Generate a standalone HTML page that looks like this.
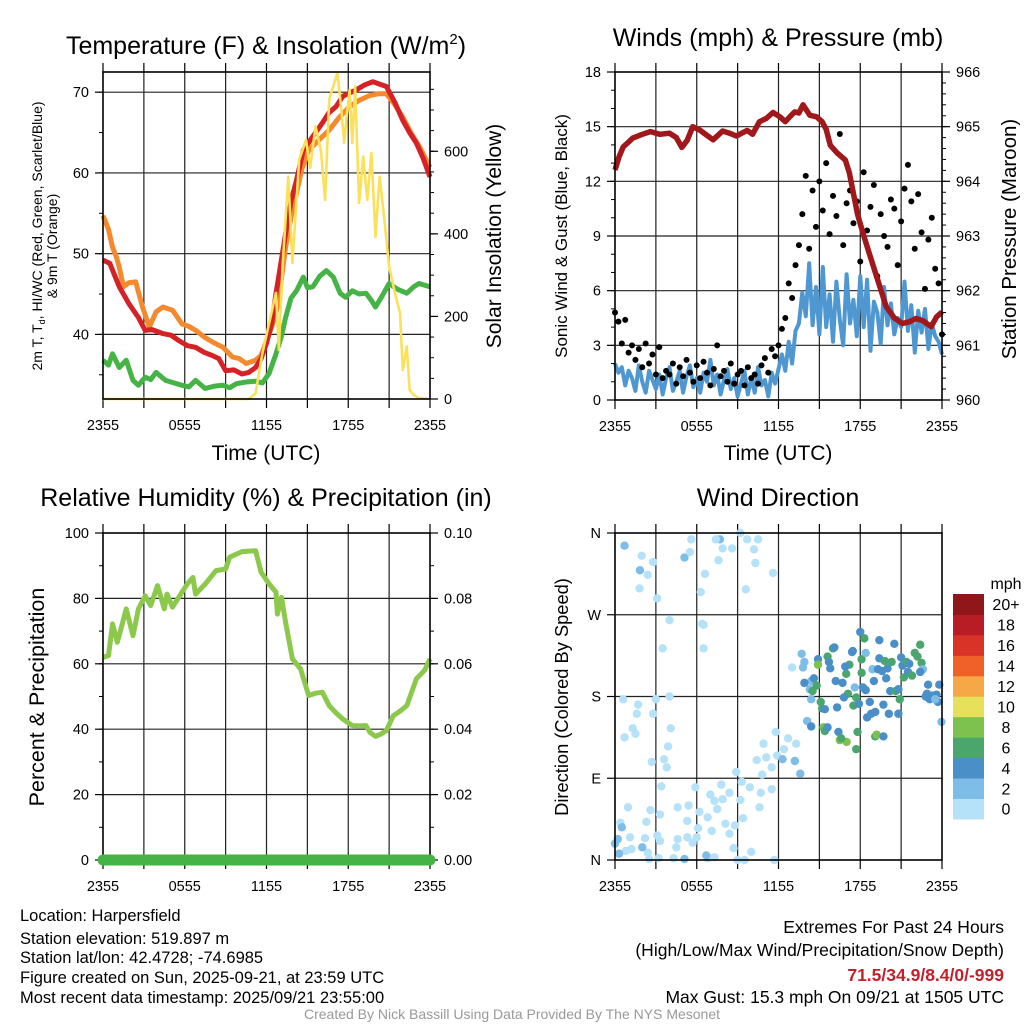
<!DOCTYPE html>
<html><head><meta charset="utf-8">
<style>
html,body{margin:0;padding:0;background:#fff;}
svg{display:block;font-family:"Liberation Sans",Arial,sans-serif;}
</style></head>
<body>
<svg id="root" width="1024" height="1024" viewBox="0 0 1024 1024" xmlns="http://www.w3.org/2000/svg">
<rect width="1024" height="1024" fill="#fff"/>
<g id="p1"></g>
<g id="p2"></g>
<g id="p3"></g>
<g id="p4"></g>

<text x="266" y="54" font-size="25" text-anchor="middle">Temperature (F) &amp; Insolation (W/m<tspan font-size="15" dy="-10">2</tspan><tspan dy="10">)</tspan></text>
<text transform="translate(42,236) rotate(-90)" font-size="14" text-anchor="middle">2m T, T<tspan font-size="9" dy="3">d</tspan><tspan dy="-3">, HI/WC (Red, Green, Scarlet/Blue)</tspan></text>
<text transform="translate(57,246) rotate(-90)" font-size="14" text-anchor="middle">&amp; 9m T (Orange)</text>
<text transform="translate(501,236) rotate(-90)" font-size="21" text-anchor="middle">Solar Insolation (Yellow)</text>
<text x="266" y="460" font-size="21" text-anchor="middle">Time (UTC)</text>

<text x="778" y="46" font-size="25" text-anchor="middle">Winds (mph) &amp; Pressure (mb)</text>
<text transform="translate(567,236) rotate(-90)" font-size="17" text-anchor="middle">Sonic Wind &amp; Gust (Blue, Black)</text>
<text transform="translate(1016,239) rotate(-90)" font-size="20.5" text-anchor="middle">Station Pressure (Maroon)</text>
<text x="778" y="460" font-size="21" text-anchor="middle">Time (UTC)</text>

<text x="266" y="506" font-size="25" text-anchor="middle">Relative Humidity (%) &amp; Precipitation (in)</text>
<text transform="translate(44,697) rotate(-90)" font-size="21.5" text-anchor="middle">Percent &amp; Precipitation</text>

<text x="778" y="506" font-size="25" text-anchor="middle">Wind Direction</text>
<text transform="translate(568,697) rotate(-90)" font-size="18.3" text-anchor="middle">Direction (Colored By Speed)</text>
<text x="1006" y="589" font-size="16" text-anchor="middle">mph</text>

<g font-size="16.5">
<text x="20" y="921">Location: Harpersfield</text>
<text x="20" y="944">Station elevation: 519.897 m</text>
<text x="20" y="963">Station lat/lon: 42.4728; -74.6985</text>
<text x="20" y="983">Figure created on Sun, 2025-09-21, at 23:59 UTC</text>
<text x="20" y="1003">Most recent data timestamp: 2025/09/21 23:55:00</text>
</g>
<g font-size="17.5" text-anchor="end">
<text x="1004" y="933">Extremes For Past 24 Hours</text>
<text x="1004" y="956">(High/Low/Max Wind/Precipitation/Snow Depth)</text>
<text x="1004" y="981" font-weight="bold" fill="#c3202b">71.5/34.9/8.4/0/-999</text>
<text x="1004" y="1003">Max Gust: 15.3 mph On 09/21 at 1505 UTC</text>
</g>
<text x="512" y="1019" font-size="14" fill="#999" text-anchor="middle">Created By Nick Bassill Using Data Provided By The NYS Mesonet</text>
</svg>

<script>
// ---------- data ----------
const timeTicks = ["2355","0555","1155","1755","2355"];
const tempTicks = [40,50,60,70];
const solarTicks = [0,200,400,600];
const windTicks = [0,3,6,9,12,15,18];
const presTicks = [960,961,962,963,964,965,966];
const rhTicks = [0,20,40,60,80,100];
const precipTicks = ["0.00","0.02","0.04","0.06","0.08","0.10"];
const dirTicks = ["N","E","S","W","N"];
const speedLabels = ["0","2","4","6","8","10","12","14","16","18","20+"];
const speedColors = ["#b5e2f8","#7dbde7","#4a8fc7","#4ba66e","#7dc24f","#e6e05a","#f6a746","#ef6128","#d93327","#b81c24","#8f1619"];

const redT = [0,0.5,1.2,1.9,2.6,3.1,3.6,4.4,5.0,5.6,6.2,6.8,7.4,8.0,8.5,9.0,9.6,10.2,10.7,11.2,11.6,12.0,12.4,12.7,13.0,13.4,13.8,14.2,14.7,15.4,16.1,16.6,17.1,17.6,18.1,18.6,19.2,19.8,20.3,20.8,21.4,22.0,22.5,23.0,23.5,24];
const redV = [49.2,48.8,45.9,43.8,42.1,40.5,40.6,40.1,39.9,39.2,38.6,38.4,37.8,37.4,37.0,35.5,35.6,35.1,35.3,35.9,37.0,38.9,41.5,45.1,48.2,52.5,56.5,59.1,62.8,64.5,66.2,67.5,68.2,69.5,69.9,70.3,70.9,71.3,71.0,70.7,68.8,66.5,65.0,63.7,61.8,59.5];
const orangeT = [0,0.4,0.7,1.0,1.2,1.5,1.9,2.4,2.9,3.4,3.9,4.4,5.1,5.8,6.3,6.8,7.5,8.1,8.8,9.5,10.0,10.5,11.2,11.6,12.0,12.4,12.8,13.1,13.4,13.8,14.2,14.6,15.1,15.8,16.6,17.3,18.1,18.8,19.6,20.2,20.8,21.4,22.0,22.6,23.3,24];
const orangeV = [54.7,53.0,50.8,49.5,48.3,45.9,46.4,46.5,43.4,40.9,42.8,43.4,43.0,41.3,41.0,40.5,39.6,39.0,38.4,37.2,37.0,36.4,36.8,37.4,39.2,41.0,43.4,47.0,50.8,54.5,57.5,60.5,62.8,64.0,65.3,66.8,68.2,69.0,69.6,69.8,69.8,68.5,66.9,65.0,63.0,60.7];
const greenT = [0,0.4,0.7,1.2,1.7,2.2,2.6,3.1,3.5,3.9,4.6,5.2,5.8,6.3,6.8,7.5,8.2,8.8,9.3,9.8,10.5,11.2,11.7,12.2,12.7,13.1,13.4,13.8,14.2,14.7,15.0,15.4,15.9,16.4,16.9,17.4,17.8,18.3,18.8,19.3,19.7,20.0,20.5,21.0,21.6,22.3,22.8,23.2,24];
const greenV = [36.8,36.2,37.6,35.9,36.8,34.3,33.7,34.7,34.4,35.3,34.3,34.0,33.7,33.5,34.3,33.3,33.6,33.7,33.4,33.9,34.1,34.2,34.0,35.2,37.6,39.8,42.1,44.5,45.4,47.1,45.8,45.9,47.2,47.9,47.1,45.1,44.6,45.4,45.0,45.1,44.2,43.4,44.8,46.3,45.6,45.1,45.9,46.3,45.9];
const solarT = [0,10.7,11.2,11.7,12.2,12.7,12.9,13.2,13.6,13.9,14.4,14.9,15.2,15.6,16.0,16.3,16.6,17.2,17.5,17.7,17.9,18.1,18.3,18.5,18.8,19.1,19.4,19.7,20.0,20.3,20.6,21.0,21.4,21.8,22.0,22.3,22.5,22.8,23.2,24];
const solarV = [0,0,14,111,184,257,119,330,539,330,579,628,560,660,600,482,725,790,700,620,690,749,620,757,475,587,482,596,393,539,450,321,260,208,70,127,22,10,2,0];

const presT = [0,0.3,0.6,1.0,1.3,2.0,2.6,3.3,4.0,4.5,4.9,5.3,5.7,6.2,6.7,7.2,7.9,8.4,8.9,9.3,9.7,10.1,10.6,11.1,11.6,12.1,12.5,12.9,13.2,13.5,13.8,14.3,14.8,15.2,15.5,15.8,16.3,16.9,17.2,17.5,17.8,18.2,18.7,19.2,19.6,19.9,20.5,21.1,21.6,22.1,22.6,23.2,23.6,24];
const presV = [964.21,964.45,964.63,964.72,964.79,964.86,964.91,964.86,964.88,964.80,964.62,964.75,965.00,964.94,964.85,964.76,964.92,964.88,964.83,964.88,964.93,964.86,965.09,965.15,965.26,965.18,965.09,965.20,965.27,965.25,965.40,965.21,965.18,965.09,964.95,964.66,964.52,964.39,964.15,963.78,963.40,963.05,962.65,962.26,961.95,961.71,961.50,961.40,961.43,961.49,961.45,961.34,961.52,961.61];
const windV = [2.0,1.5,1.8,0.8,1.6,1.2,0.5,1.9,1.0,0.4,1.6,1.1,0.6,
1.4,0.3,1.2,1.8,0.5,1.0,1.6,0.4,1.3,1.9,0.7,1.2,
0.4,1.5,1.0,2.2,0.8,1.4,0.3,1.1,1.7,0.6,1.2,0.2,
0.9,1.6,0.3,1.2,0.4,1.8,0.8,1.1,0.2,1.5,0.9,1.7,
2.5,1.6,3.2,2.0,3.8,4.2,5.9,4.6,7.5,4.1,6.2,3.6,
7.3,4.0,5.8,3.2,6.5,4.4,3.0,6.9,4.2,5.5,3.5,6.8,
4.0,6.6,2.7,5.4,4.8,3.1,6.2,4.1,5.3,3.6,4.5,4.0,
6.5,3.8,5.2,2.6,4.9,3.7,5.0,2.8,4.2,3.5,3.2,2.5];
const gustV = [4.8,4.3,3.1,4.4,2.6,3.0,2.2,2.8,1.8,3.1,2.0,2.5,1.4,
2.9,1.2,1.6,1.4,2.0,0.9,1.8,1.3,2.2,1.5,1.0,1.9,
1.2,2.1,1.5,0.8,1.7,3.0,1.3,1.6,1.0,2.0,0.9,1.4,
1.6,0.8,1.8,1.2,1.4,0.9,1.9,2.3,1.5,2.8,2.4,3.0,
3.9,4.5,6.4,5.6,7.4,8.5,10.2,12.3,8.3,11.5,9.5,12.0,
10.4,13.0,9.1,11.2,10.1,14.6,8.5,10.8,11.5,9.7,10.9,7.6,
12.5,9.3,10.6,11.8,6.8,10.2,9.0,8.4,11.0,10.5,7.4,9.8,
11.6,12.9,10.9,8.3,11.3,9.2,6.1,8.8,10.0,7.2,6.4,3.6];

const rhT = [0,0.4,0.7,1.05,1.4,1.7,2.2,2.6,3.1,3.5,4.0,4.5,4.7,5.1,5.8,6.2,6.6,6.8,7.5,8.3,9.0,9.3,10.2,11.2,11.6,12.2,12.7,12.8,13.1,13.4,13.9,14.5,15.1,15.6,16.1,16.6,17.1,17.6,18.3,18.8,19.3,19.6,20.0,20.4,20.8,21.3,21.8,22.3,23.0,23.6,24];
const rhV = [62.0,62.5,72.2,66.6,72.0,76.8,68.6,76.8,80.8,77.8,83.9,76.8,81.3,77.3,81.9,84.5,86.4,81.3,84.4,88.5,89.0,92.6,94.3,94.6,88.0,84.4,81.9,75.2,80.3,72.7,61.5,58.4,50.3,51.0,51.3,47.2,45.0,43.1,41.1,41.0,41.1,39.0,37.8,38.5,39.6,44.1,45.5,47.2,55.4,58.0,61.5];
const precipT = [0,24];
const precipV = [0,0];

const dirH = [0.7,1.96,1.83,2.4,1.8,2.8,3.1,5.1,5.5,5.6,6.6,6.3,7.7,7.4,7.9,8.6,7.6,9.2,9.7,10.5,10.2,10.3,9.6,11.6,
4.0,6.5,6.4,3.5,6.5,0.6,1.7,3.0,4.0,1.6,2.8,1.3,4.1,0.7,1.5,3.9,2.7,3.6,3.8,
11.8,12.7,13.3,12.4,11.9,10.9,11.1,11.5,10.4,12.3,13.2,13.6,13.0,10.8,11.5,10.7,9.9,9.3,8.9,9.2,8.4,7.8,7.0,7.3,7.5,7.9,5.9,6.2,6.8,6.1,5.3,5.4,4.6,3.3,2.6,2.3,0.95,3.4,8.1,8.8,8.4,7.1,6.0,5.3,4.6,3.3,3.1,2.2,1.1,0.4,1.2,0.8,2.4,2.5,3.2,4.3,4.5,5.7,6.8,7.3,8.7,9.0,9.5,10.0,11.7,9.4,10.6,
0.0,0.2,0.5,0.3,2.0,5.1,6.7,
13.7,13.9,13.8,14.4,14.3,14.4,14.1,14.9,14.6,13.9,14.8,14.5,14.9,15.1,15.2,15.4,14.4,15.3,15.4,15.6,15.6,16.0,16.1,15.7,15.8,16.2,16.3,16.4,16.5,17.0,16.6,16.97,17.2,16.9,16.7,17.4,17.45,17.6,17.1,16.8,17.5,17.7,18.0,18.3,18.1,18.4,18.1,18.2,18.4,17.9,17.8,17.7,18.7,18.5,18.8,19.1,19.0,19.1,19.2,19.7,19.4,19.4,18.9,19.3,19.6,19.8,19.9,19.7,20.1,20.0,20.3,20.5,20.2,20.6,20.8,20.8,20.9,21.0,21.1,21.2,21.4,21.5,21.8,22.0,22.2,22.4,22.5,22.6,22.4,22.98,22.8,23.1,23.3,23.6,23.8,23.7,23.96,23.5,22.9,21.6];
const dirDeg = [346,335,319,314,299,328,288,333,339,353,315,295,353,353,343,343,330,360,353,353,342,327,298,316,
264,259,260,233,233,177,171,177,180,161,161,145,145,135,139,125,108,111,102,
141,134,128,122,115,128,113,102,110,111,109,95,212,94,78,74,80,86,97,66,74,83,72,65,56,67,80,53,47,35,43,60,58,50,55,42,58,81,40,38,29,32,25,25,23,21,27,24,25,41,12,10,8,1,2,2,14,19,2,3,13,0,0,9,0,46,58,
18,23,36,7,14,1,5,
227,218,212,197,188,177,153,221,200,195,192,186,215,174,167,166,147,146,142,146,224,233,234,218,211,197,168,141,132,130,134,205,215,213,195,229,230,190,183,179,170,179,251,244,221,228,206,190,187,172,141,122,174,157,161,163,197,136,138,136,242,222,210,210,208,219,200,171,161,211,218,238,186,186,188,161,177,223,214,201,218,207,203,228,224,237,217,210,207,193,180,177,181,182,193,174,152,177,183,216];
const dirSpd = [3,1,3,1,1,1,1,3,1,1,1,1,3,1,1,1,1,1,1,1,1,1,1,1,
1,1,1,1,1,1,1,1,1,1,1,1,1,1,1,1,1,1,1,
1,1,1,1,1,1,1,1,1,3,3,3,1,1,1,1,1,1,1,1,1,1,1,1,1,1,1,1,1,1,1,1,1,1,1,1,1,1,1,1,1,1,1,1,1,1,1,1,1,1,1,1,1,1,1,1,1,1,1,1,1,1,1,1,1,1,1,
3,3,3,3,3,3,3,
3,3,3,3,3,3,3,5,5,5,7,7,9,7,7,5,5,9,7,5,7,7,5,5,5,5,5,5,9,9,7,7,7,5,5,5,5,3,7,5,7,7,5,7,7,3,7,5,5,5,7,7,5,5,5,5,5,7,9,5,5,5,3,5,5,7,5,5,5,5,7,5,5,7,5,5,7,5,5,7,7,5,7,7,7,7,7,3,5,5,5,5,5,5,5,5,3,3,5,5,5,7];

// ---------- helpers ----------
const NS = "http://www.w3.org/2000/svg";
function el(parent, tag, attrs){ const e=document.createElementNS(NS,tag); for(const k in attrs) e.setAttribute(k,attrs[k]); parent.appendChild(e); return e; }
function lin(d0,d1,r0,r1){ return v => r0+(v-d0)/(d1-d0)*(r1-r0); }
function speedColor(s){ return speedColors[Math.min(10,Math.max(0,Math.floor(s/2)))]; }

const P1={g:document.getElementById('p1'),x0:103,x1:430,y0:72,y1:399};
const P2={g:document.getElementById('p2'),x0:615,x1:942,y0:72,y1:400};
const P3={g:document.getElementById('p3'),x0:103,x1:430,y0:533,y1:860};
const P4={g:document.getElementById('p4'),x0:615,x1:942,y0:533,y1:860};
const TF=14.5;

function timeAxis(P){
  const xs=lin(0,24,P.x0,P.x1);
  for(let h=0;h<=24;h+=3){
    const x=xs(h);
    if(h>0&&h<24){
      const g=el(P.g,'line',{x1:x,x2:x,y1:P.y0,y2:P.y1,stroke:'#222','stroke-width':1.2});
      
      
    }
    const t1=el(P.g,'line',{x1:x,x2:x,y1:P.y1,y2:P.y1+9,stroke:'#000','stroke-width':1.2});
    
    
    const t2=el(P.g,'line',{x1:x,x2:x,y1:P.y0-9,y2:P.y0,stroke:'#000','stroke-width':1.2});
    
    
  }
  timeTicks.forEach((lab,i)=>{
    const t=el(P.g,'text',{x:xs(i*6),y:P.y1+31,'font-size':TF,'text-anchor':'middle'});
    t.textContent=lab;
    
    
  });
  return xs;
}
function leftAxis(P,vals,labels,d0,d1,minorStep,grid){
  const ys=lin(d0,d1,P.y1,P.y0);
  vals.forEach((v,i)=>{
    const y=ys(v);
    if(grid && y>P.y0+1 && y<P.y1-1){
      const g=el(P.g,'line',{x1:P.x0,x2:P.x1,y1:y,y2:y,stroke:'#222','stroke-width':1.2});
      
      
    }
    const tk=el(P.g,'line',{x1:P.x0-8,x2:P.x0,y1:y,y2:y,stroke:'#000','stroke-width':1.2});
    
    
    const t=el(P.g,'text',{x:P.x0-14,y:y+5,'font-size':TF,'text-anchor':'end'});
    t.textContent=labels[i];
    
    
  });
  if(minorStep){
    for(let v=Math.ceil(d0/minorStep)*minorStep; v<=d1; v+=minorStep){
      const y=ys(v);
      const m=el(P.g,'line',{x1:P.x0-4,x2:P.x0,y1:y,y2:y,stroke:'#000','stroke-width':1});
      
      
    }
  }
  return ys;
}
function rightAxis(P,vals,labels,d0,d1,minorStep){
  const ys=lin(d0,d1,P.y1,P.y0);
  vals.forEach((v,i)=>{
    const y=ys(v);
    const tk=el(P.g,'line',{x1:P.x1,x2:P.x1+8,y1:y,y2:y,stroke:'#000','stroke-width':1.2});
    
    
    const t=el(P.g,'text',{x:P.x1+14,y:y+5,'font-size':TF,'text-anchor':'start'});
    t.textContent=labels[i];
    
    
  });
  for(let k=0; d0+k*minorStep<=d1+1e-9; k++){
    const y=ys(d0+k*minorStep);
    const m=el(P.g,'line',{x1:P.x1,x2:P.x1+4,y1:y,y2:y,stroke:'#000','stroke-width':1});
    
    
  }
  return ys;
}
function frame(P){
  const f=el(P.g,'rect',{x:P.x0,y:P.y0,width:P.x1-P.x0,height:P.y1-P.y0,fill:'none',stroke:'#000','stroke-width':1.6});
  
  
}
function pathD(ts,vs,xs,ys){ return ts.map((t,i)=>(i?'L':'M')+xs(t).toFixed(1)+','+ys(vs[i]).toFixed(1)).join(''); }

// ---------- panel 1 ----------
{
  const xs=timeAxis(P1);
  const yT=leftAxis(P1,tempTicks,tempTicks.map(String),32,72.5,5,true);
  const yS=rightAxis(P1,solarTicks,solarTicks.map(String),0,792,50);
  const g1=el(P1.g,'path',{d:pathD(greenT,greenV,xs,yT),fill:'none',stroke:'#46b347','stroke-width':5,'stroke-linejoin':'round'});
  
  
  const o1=el(P1.g,'path',{d:pathD(orangeT,orangeV,xs,yT),fill:'none',stroke:'#f5892e','stroke-width':5,'stroke-linejoin':'round'});
  
  
  const r1=el(P1.g,'path',{d:pathD(redT,redV,xs,yT),fill:'none',stroke:'#d42226','stroke-width':5,'stroke-linejoin':'round'});
  
  
  const s1=el(P1.g,'path',{d:pathD(solarT,solarV,xs,yS),fill:'none',stroke:'#fbe15a','stroke-width':2.6,'stroke-linejoin':'round'});
  
  
  frame(P1);
}
// ---------- panel 2 ----------
{
  const xs=timeAxis(P2);
  const yW=leftAxis(P2,windTicks,windTicks.map(String),0,18,1,true);
  const yP=rightAxis(P2,presTicks,presTicks.map(String),960,966,0.2);
  const wt=windV.map((v,i)=>i*0.25);
  const b=el(P2.g,'path',{d:pathD(wt,windV,xs,yW),fill:'none',stroke:'#4e97d1','stroke-width':4,'stroke-linejoin':'round'});
  
  
  gustV.forEach((v,i)=>{
    const c=el(P2.g,'circle',{cx:xs(i*0.25),cy:yW(v),r:3,fill:'#000'});
    
    
  });
  const m=el(P2.g,'path',{d:pathD(presT,presV,xs,yP),fill:'none',stroke:'#a0181b','stroke-width':5.5,'stroke-linejoin':'round'});
  
  
  frame(P2);
}
// ---------- panel 3 ----------
{
  const xs=timeAxis(P3);
  const yR=leftAxis(P3,rhTicks,rhTicks.map(String),0,100,10,true);
  rightAxis(P3,[0,0.02,0.04,0.06,0.08,0.1],precipTicks,0,0.1,0.01);
  const r=el(P3.g,'path',{d:pathD(rhT,rhV,xs,yR),fill:'none',stroke:'#8cc84b','stroke-width':5,'stroke-linejoin':'round'});
  
  
  frame(P3);
  const yPr=lin(0,0.1,P3.y1,P3.y0);
  const p=el(P3.g,'path',{d:pathD(precipT,precipV,xs,yPr),fill:'none',stroke:'#46b347','stroke-width':11,'stroke-linecap':'round'});
  
  
}
// ---------- panel 4 ----------
{
  const xs=timeAxis(P4);
  const yD=leftAxis(P4,[0,90,180,270,360],dirTicks,0,360,0,true);
  dirH.forEach((h,i)=>{
    const c=el(P4.g,'circle',{cx:xs(h),cy:yD(dirDeg[i]),r:4.2,fill:speedColor(dirSpd[i])});
    
    
  });
  frame(P4);
  const cb=el(document.getElementById('root'),'g',{});
  
  
  const bh=20.45, top=594;
  speedColors.forEach((col,i)=>{
    const k=10-i;
    const r=el(cb,'rect',{x:953,y:top+k*bh,width:31,height:bh+0.5,fill:col});
    
    
    const t=el(cb,'text',{x:1006,y:top+k*bh+bh/2+6,'font-size':16,'text-anchor':'middle'});
    t.textContent=speedLabels[i];
    
    
  });
}
</script>
</body></html>
